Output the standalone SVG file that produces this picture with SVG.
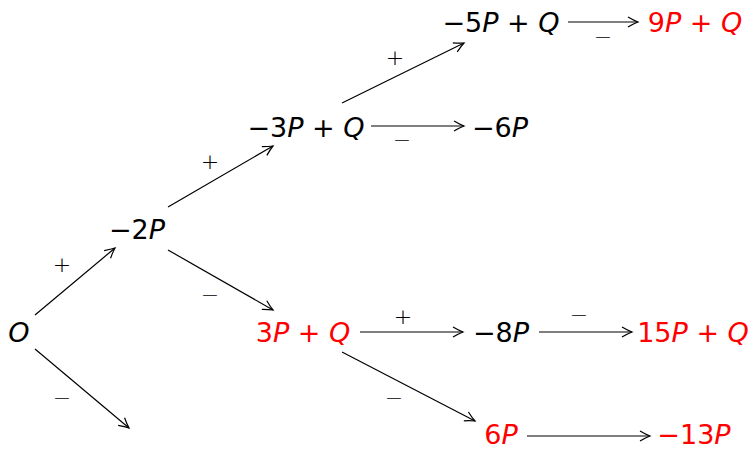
<svg xmlns="http://www.w3.org/2000/svg" width="750" height="450" viewBox="0 0 750 450">
<style>
.n{font-family:"DejaVu Sans",sans-serif;font-size:27px;text-anchor:middle;fill:#000}
.r{fill:#ff0000}
.i{font-style:italic}
.l{font-family:"DejaVu Sans",sans-serif;font-size:22px;font-weight:300;text-anchor:middle;fill:#000}
.e{stroke:#000;stroke-width:1.2;fill:none;marker-end:url(#ah)}
</style>
<defs>
<marker id="ah" markerUnits="userSpaceOnUse" markerWidth="14" markerHeight="14" viewBox="-12 -7 14 14" refX="0" refY="0" orient="auto">
<path d="M-10,-5 Q-4,-1.5 0,0 Q-4,1.5 -10,5" stroke="#000" stroke-width="1.2" fill="none"/>
</marker>
</defs>
<g id="connectors">
<line class="e" x1="35" y1="315" x2="115" y2="248"/>
<line class="e" x1="35" y1="349" x2="129" y2="428"/>
<line class="e" x1="168" y1="207" x2="273" y2="146"/>
<line class="e" x1="168" y1="250" x2="273" y2="310"/>
<line class="e" x1="342" y1="103" x2="464" y2="43"/>
<line class="e" x1="371" y1="126" x2="464" y2="126"/>
<line class="e" x1="568" y1="22" x2="638" y2="22"/>
<line class="e" x1="360" y1="332" x2="463" y2="332"/>
<line class="e" x1="539" y1="332" x2="632" y2="332"/>
<line class="e" x1="342" y1="352" x2="475" y2="421"/>
<line class="e" x1="527" y1="436" x2="650" y2="436"/>
<text class="l" x="62" y="272">+</text>
<text class="l" x="62" y="405">−</text>
<text class="l" x="210" y="169">+</text>
<text class="l" x="210" y="302">−</text>
<text class="l" x="395" y="65">+</text>
<text class="l" x="402" y="147">−</text>
<text class="l" x="603" y="44">−</text>
<text class="l" x="403" y="324">+</text>
<text class="l" x="579" y="322">−</text>
<text class="l" x="394" y="405">−</text>
</g>
<g id="n-O"><text class="n" x="19" y="342"><tspan class="i">O</tspan></text></g>
<g id="n-m2P"><text class="n" x="137" y="239">−2<tspan class="i">P</tspan></text></g>
<g id="n-m3PQ"><text class="n" x="306" y="137">−3<tspan class="i">P</tspan> + <tspan class="i">Q</tspan></text></g>
<g id="n-m6P"><text class="n" x="500" y="137">−6<tspan class="i">P</tspan></text></g>
<g id="n-m5PQ"><text class="n" x="501" y="32">−5<tspan class="i">P</tspan> + <tspan class="i">Q</tspan></text></g>
<g id="n-9PQ"><text class="n r" x="695" y="32">9<tspan class="i">P</tspan> + <tspan class="i">Q</tspan></text></g>
<g id="n-3PQ"><text class="n r" x="303" y="342">3<tspan class="i">P</tspan> + <tspan class="i">Q</tspan></text></g>
<g id="n-m8P"><text class="n" x="501" y="342">−8<tspan class="i">P</tspan></text></g>
<g id="n-15PQ"><text class="n r" x="693" y="342">15<tspan class="i">P</tspan> + <tspan class="i">Q</tspan></text></g>
<g id="n-6P"><text class="n r" x="501" y="444">6<tspan class="i">P</tspan></text></g>
<g id="n-m13P"><text class="n r" x="694" y="444">−13<tspan class="i">P</tspan></text></g>
</svg>
